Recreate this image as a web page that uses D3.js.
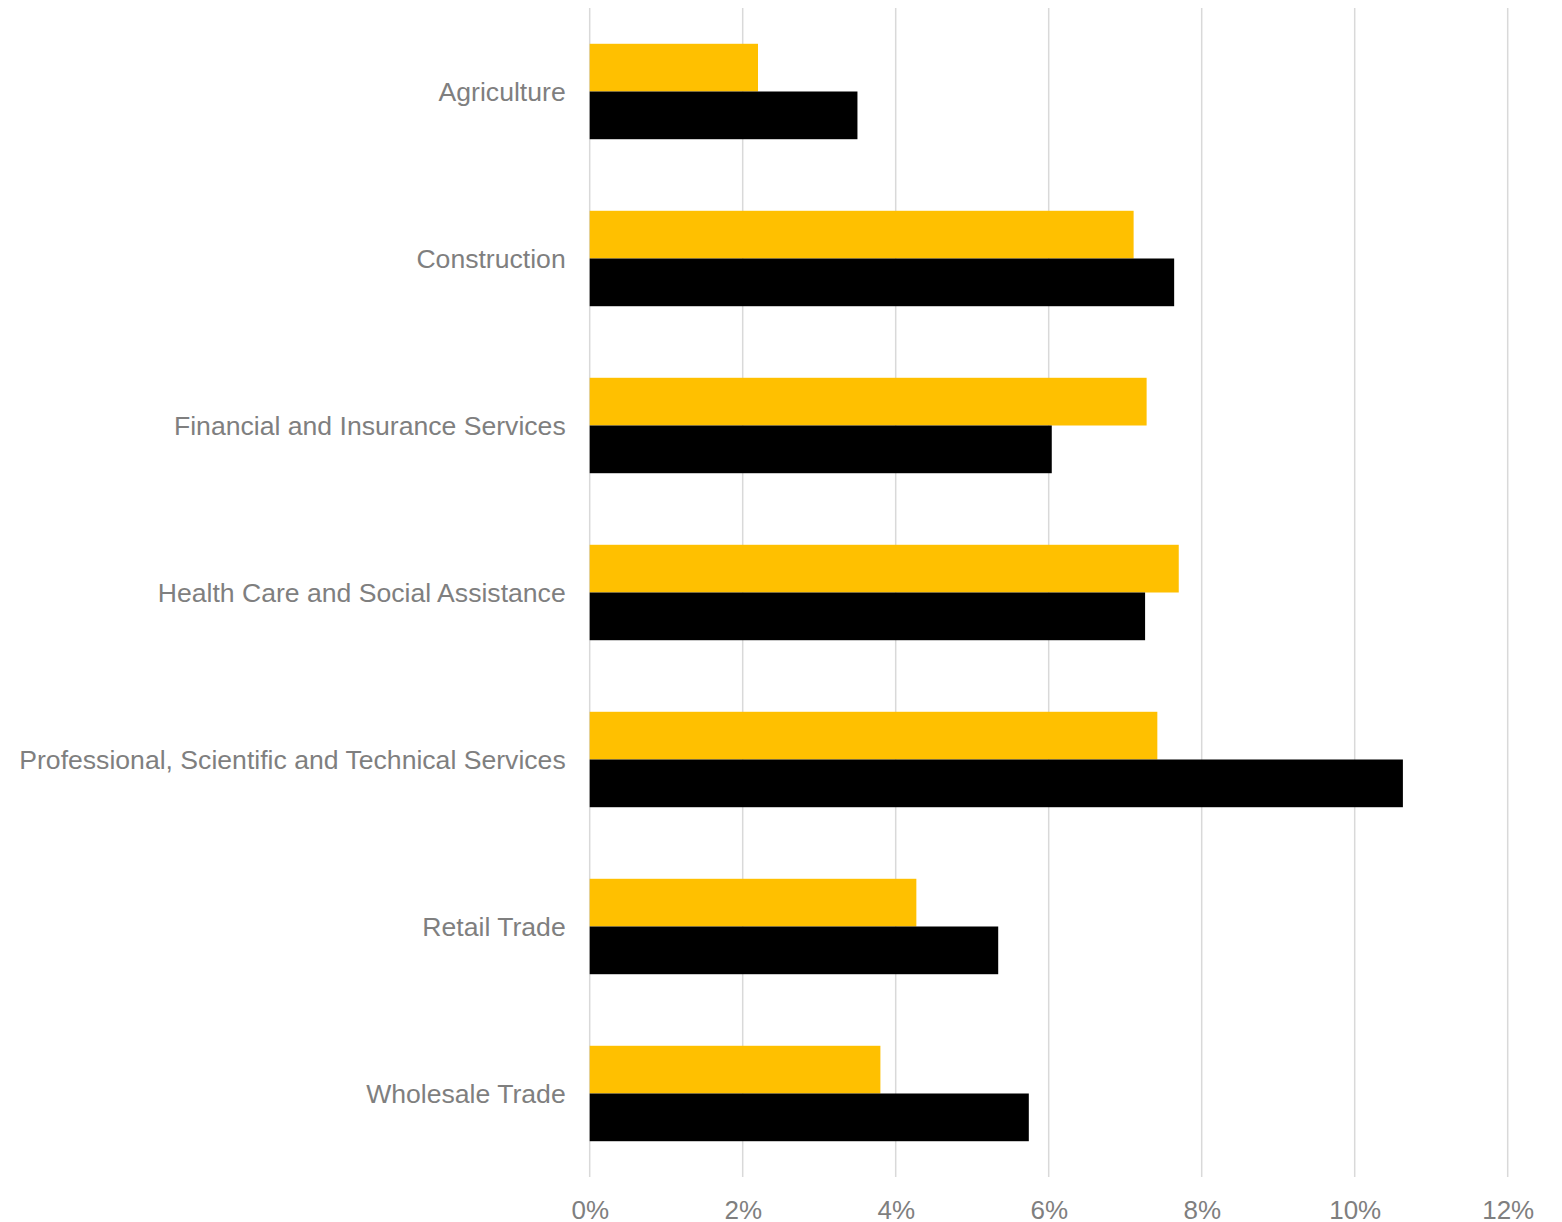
<!DOCTYPE html>
<html>
<head>
<meta charset="utf-8">
<script src="https://cdn.jsdelivr.net/npm/d3@7"></script>
<style>
  html, body { margin: 0; padding: 0; background: #ffffff; }
  svg { display: block; }
  text { font-family: "Liberation Sans", Arial, sans-serif; }
</style>
</head>
<body>
<svg id="chart" width="1562" height="1222"></svg>
<script>
// Industry categories, top to bottom
const categories = [
  "Agriculture",
  "Construction",
  "Financial and Insurance Services",
  "Health Care and Social Assistance",
  "Professional, Scientific and Technical Services",
  "Retail Trade",
  "Wholesale Trade"
];

// Series values (percent)
const seriesYellow = [2.20, 7.11, 7.28, 7.70, 7.42, 4.27, 3.80];
const seriesBlack  = [3.50, 7.64, 6.04, 7.26, 10.63, 5.34, 5.74];

// Axis ticks
const xTicks = [0, 2, 4, 6, 8, 10, 12];
const tickLabels = ["0%", "2%", "4%", "6%", "8%", "10%", "12%"];

const series = [
  { key: "yellow", values: seriesYellow, color: "#FFC000" },
  { key: "black",  values: seriesBlack,  color: "#000000" }
];

const svg = d3.select("#chart");
const plot = { left: 589.7, right: 1507.7, top: 8, bottom: 1177 };

const x = d3.scaleLinear().domain([0, 12]).range([plot.left, plot.right]);

// gap width of 75% between category groups
const gap = 0.75 / 1.75;
const y = d3.scaleBand()
  .domain(categories)
  .range([plot.top, plot.bottom])
  .paddingInner(gap)
  .paddingOuter(gap / 2);

const ySub = d3.scaleBand()
  .domain(series.map(s => s.key))
  .range([0, y.bandwidth()])
  .padding(0);

// vertical gridlines
svg.append("g")
  .selectAll("line")
  .data(xTicks)
  .join("line")
  .attr("x1", d => x(d))
  .attr("x2", d => x(d))
  .attr("y1", plot.top)
  .attr("y2", plot.bottom)
  .attr("stroke", "#d9d9d9")
  .attr("stroke-width", 1.5);

// bars
const groups = svg.append("g")
  .selectAll("g")
  .data(categories)
  .join("g")
  .attr("transform", d => `translate(0,${y(d)})`);

groups.selectAll("rect")
  .data((d, i) => series.map(s => ({ key: s.key, value: s.values[i], color: s.color })))
  .join("rect")
  .attr("x", x(0))
  .attr("y", d => ySub(d.key))
  .attr("width", d => x(d.value) - x(0))
  .attr("height", ySub.bandwidth())
  .attr("fill", d => d.color);

// category labels
svg.append("g")
  .selectAll("text")
  .data(categories)
  .join("text")
  .attr("x", plot.left - 24)
  .attr("y", d => y(d) + y.bandwidth() / 2)
  .attr("text-anchor", "end")
  .attr("dominant-baseline", "central")
  .attr("font-size", 26.6)
  .attr("fill", "#7f7f7f")
  .text(d => d);

// x-axis tick labels
const xAxis = d3.axisBottom(x)
  .tickValues(xTicks)
  .tickFormat((d, i) => tickLabels[i])
  .tickSize(0)
  .tickPadding(0);

const axisG = svg.append("g")
  .attr("transform", `translate(0,${plot.bottom + 24})`)
  .call(xAxis);
axisG.select(".domain").remove();
axisG.selectAll("text")
  .attr("font-family", "Liberation Sans, Arial, sans-serif")
  .attr("font-size", 26)
  .attr("fill", "#7f7f7f");
</script>
</body>
</html>
